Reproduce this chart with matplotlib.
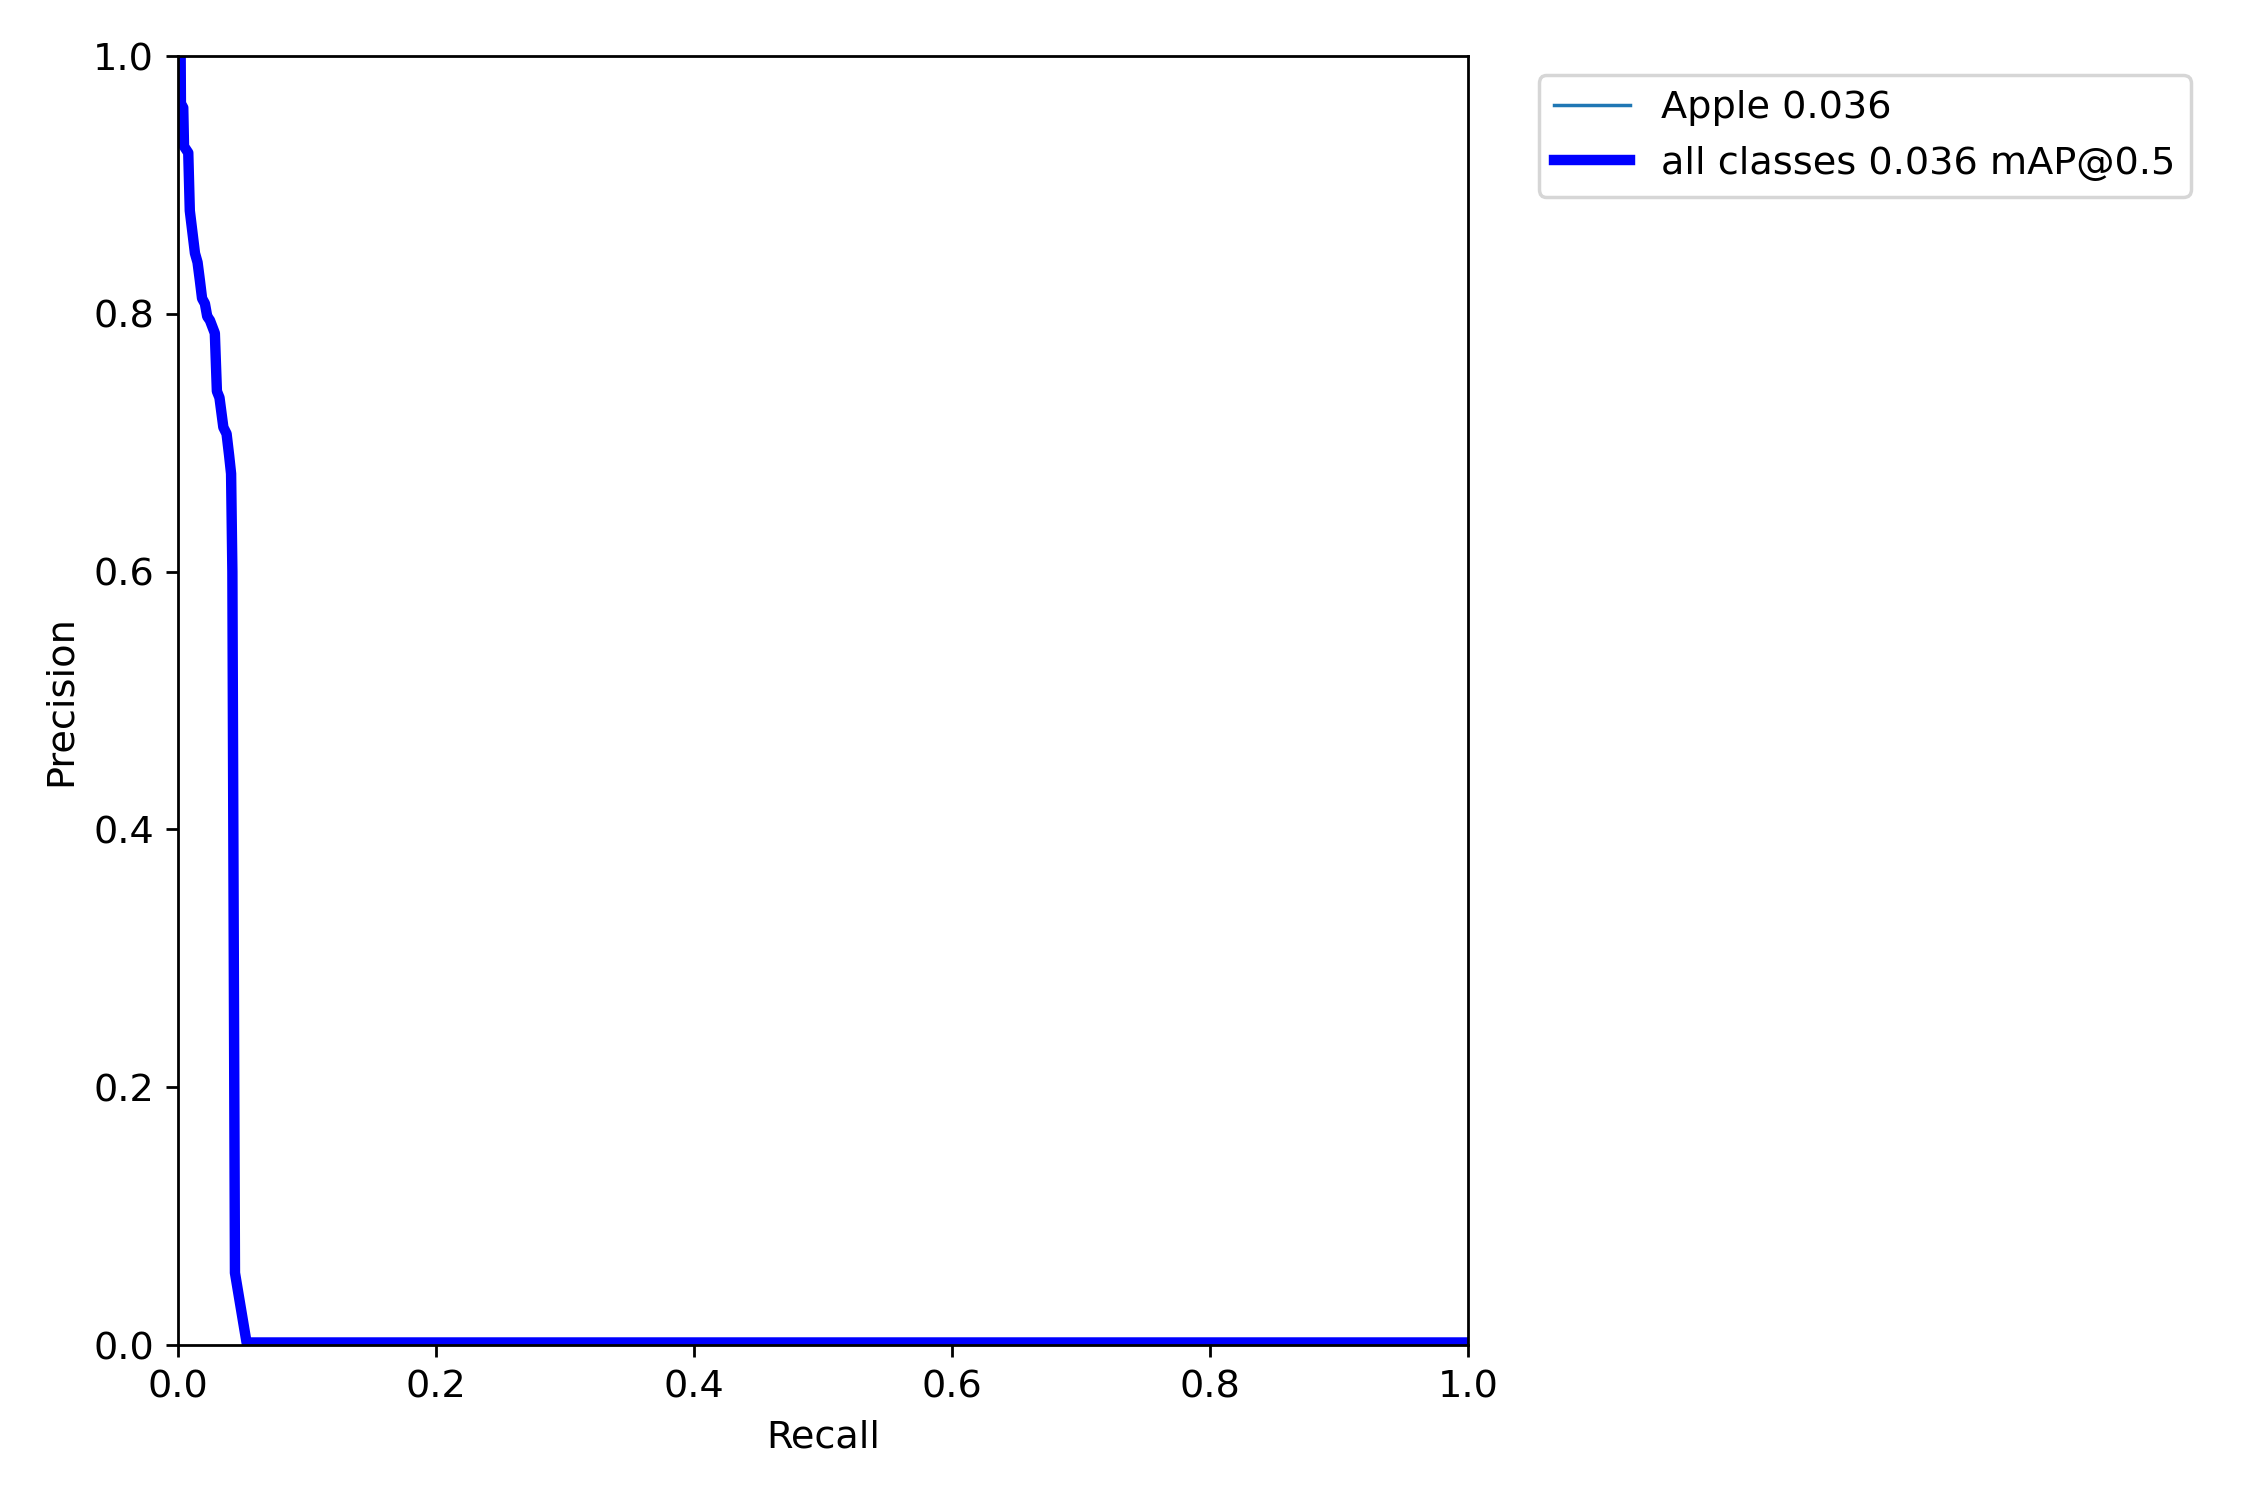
import matplotlib
matplotlib.use("Agg")
import matplotlib.pyplot as plt
import numpy as np

recall = [0.0, 0.0019, 0.0021, 0.0039, 0.0045, 0.0078, 0.0090, 0.013, 0.0150,
          0.0168, 0.0185, 0.0207, 0.0225, 0.0246, 0.0284, 0.0300, 0.032, 0.0350,
          0.0375, 0.0395, 0.0410, 0.0420, 0.0440, 0.0530, 1.0]
precision = [1.0, 1.0, 0.963, 0.960, 0.930, 0.925, 0.880, 0.847, 0.840,
             0.826, 0.812, 0.808, 0.798, 0.795, 0.785, 0.740, 0.735, 0.712,
             0.707, 0.690, 0.676, 0.600, 0.056, 0.002, 0.002]

class_name = "Apple"
class_ap = 0.036
map50 = 0.036

plt.rcParams["font.size"] = 11

fig = plt.figure(figsize=(9, 6), dpi=250)
ax = fig.add_axes([0.0792, 0.1033, 0.5733, 0.8593])
ax.plot(recall, precision, linewidth=1, label=f"{class_name} {class_ap:.3f}")
ax.plot(recall, precision, linewidth=3, color="blue",
        label=f"all classes {map50:.3f} mAP@0.5")
ax.set_xlabel("Recall")
ax.set_ylabel("Precision")
ax.set_xlim(0, 1)
ax.set_ylim(0, 1)
ax.legend(bbox_to_anchor=(1.04, 1), loc="upper left")
fig.savefig("out.png", dpi=250)
